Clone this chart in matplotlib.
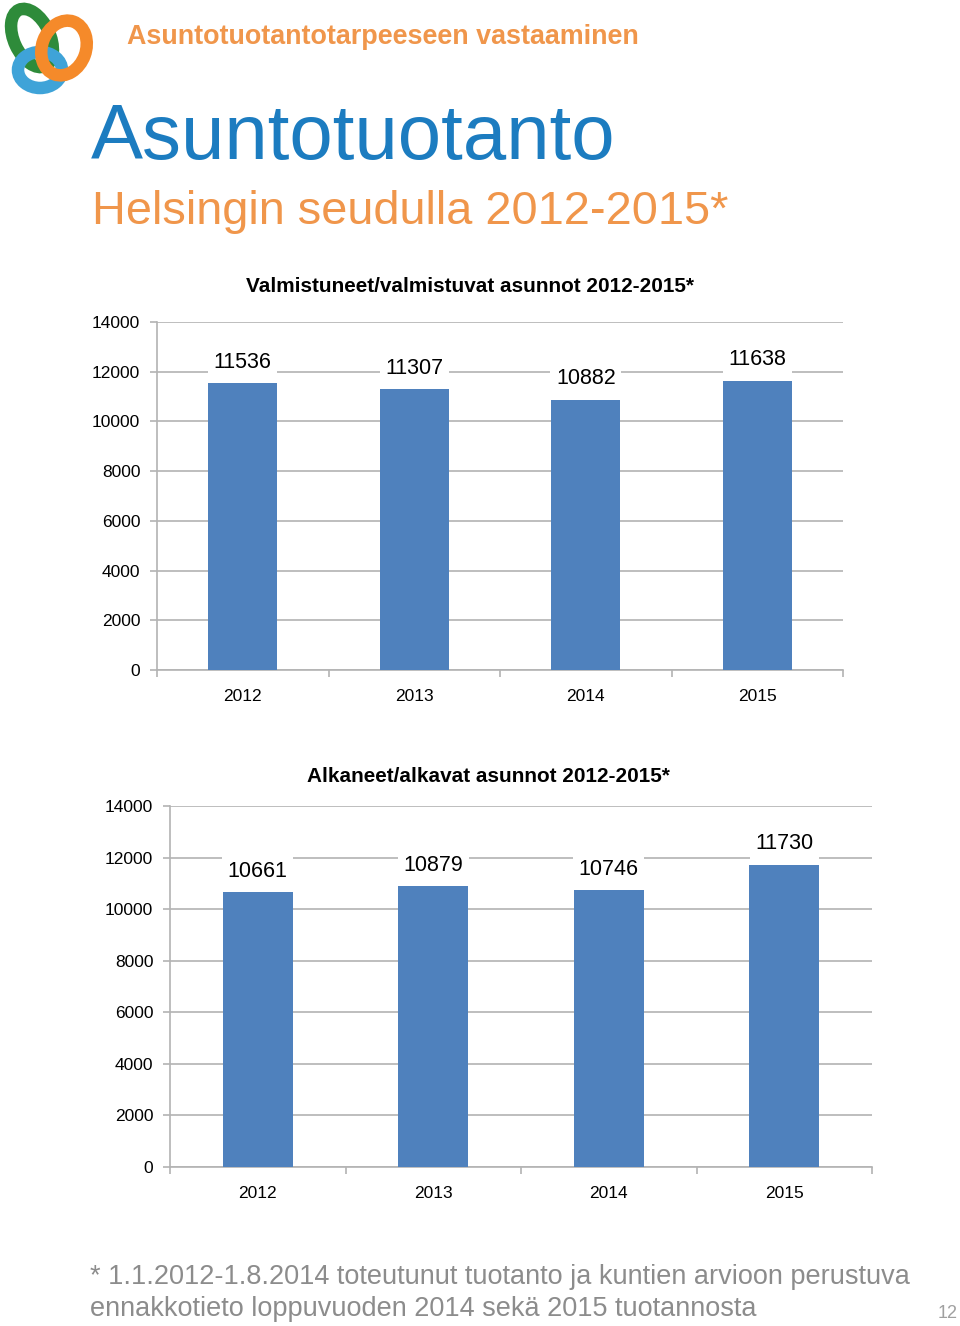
import matplotlib
matplotlib.use("Agg")
import matplotlib.pyplot as plt
from matplotlib.patches import Ellipse
import numpy as np

years = ["2012", "2013", "2014", "2015"]
valmistuneet = [11536, 11307, 10882, 11638]
alkaneet = [10661, 10879, 10746, 11730]
yticks = [0, 2000, 4000, 6000, 8000, 10000, 12000, 14000]

title1 = "Valmistuneet/valmistuvat asunnot 2012-2015*"
title2 = "Alkaneet/alkavat asunnot 2012-2015*"

W, H = 960, 1326
fig = plt.figure(figsize=(W / 100, H / 100), dpi=100)
fig.patch.set_facecolor("white")
renderer = fig.canvas.get_renderer()

BAR = "#4F81BD"
GRID = "#B3B3B3"
ORANGE = "#F0964B"
BLUE = "#1C7CC0"
GRAY = "#8C8C8C"
FONT = "Liberation Sans"

def fit_width(t, target_px):
    w = t.get_window_extent(renderer=renderer).width
    t.set_fontsize(t.get_fontsize() * target_px / w)
    return t.get_fontsize()

def px_axes(l, r, t, b):
    return fig.add_axes([l / W, 1 - b / H, (r - l) / W, (b - t) / H])

def draw_chart(ax, vals, title, title_x, title_y, title_w):
    x = np.arange(len(years))
    ax.bar(x, vals, width=0.4, color=BAR, zorder=3)
    ax.set_xlim(-0.5, len(years) - 0.5)
    ax.set_ylim(0, 14000)
    ax.set_yticks(yticks)
    ax.set_yticklabels([str(v) for v in yticks], fontsize=12.5, family=FONT)
    ax.yaxis.grid(True, color=GRID, lw=1.2, zorder=0)
    ax.set_axisbelow(True)
    ax.set_xticks(x)
    ax.set_xticklabels(years, fontsize=12.5, family=FONT)
    ax.set_xticks(np.arange(len(years) + 1) - 0.5, minor=True)
    ax.tick_params(axis="x", which="major", length=0, pad=13.5)
    ax.tick_params(axis="x", which="minor", length=5, color=GRID, width=1.2)
    ax.tick_params(axis="y", length=5, color=GRID, width=1.2, pad=7)
    for s in ["top", "right"]:
        ax.spines[s].set_visible(False)
    for s in ["left", "bottom"]:
        ax.spines[s].set_color(GRID)
        ax.spines[s].set_linewidth(1.2)
    for xi, v in zip(x, vals):
        ax.annotate(str(v), (xi, v), xytext=(0, 15), textcoords="offset points",
                    ha="center", va="center", fontsize=15.5, family=FONT,
                    bbox=dict(boxstyle="square,pad=0.25", fc="white", ec="none"), zorder=5)
    t = fig.text(title_x / W, 1 - title_y / H, title, ha="center", va="center",
                 fontsize=14, fontweight="bold", family=FONT)
    fit_width(t, title_w)

ax1 = px_axes(157, 843, 322, 670)
draw_chart(ax1, valmistuneet, title1, 470, 287, 450)
ax2 = px_axes(170, 872, 806, 1167)
draw_chart(ax2, alkaneet, title2, 488, 777, 363)

# Header texts
t = fig.text(127 / W, 1 - 37 / H, "Asuntotuotantotarpeeseen vastaaminen", ha="left", va="center",
             fontsize=17, fontweight="bold", color=ORANGE, family=FONT)
fit_width(t, 514)
t = fig.text(91 / W, 1 - 139 / H, "Asuntotuotanto", ha="left", va="center",
             fontsize=60, color=BLUE, family=FONT)
fit_width(t, 525)
t = fig.text(92 / W, 1 - 212 / H, "Helsingin seudulla 2012-2015*", ha="left", va="center",
             fontsize=34, color=ORANGE, family=FONT)
fit_width(t, 636)

# Footnote
f1 = fig.text(90 / W, 1 - 1277 / H, "* 1.1.2012-1.8.2014 toteutunut tuotanto ja kuntien arvioon perustuva",
              ha="left", va="center", fontsize=18, color=GRAY, family=FONT)
fs = fit_width(f1, 820)
fig.text(90 / W, 1 - 1309 / H, "ennakkotieto loppuvuoden 2014 sekä 2015 tuotannosta",
         ha="left", va="center", fontsize=fs, color=GRAY, family=FONT)
fig.text(948 / W, 1 - 1313 / H, "12", ha="center", va="center", fontsize=13, color="#A0A0A0",
         family=FONT)

# Logo (decorative rings)
logo = fig.add_axes([0, 1 - 100 / H, 100 / W, 100 / H])
logo.set_xlim(0, 100)
logo.set_ylim(100, 0)
logo.axis("off")
logo.add_patch(Ellipse((32, 38), 36, 62, angle=-25, fill=False, ec="#2E8B3A", lw=9))
logo.add_patch(Ellipse((40, 70), 44, 36, angle=0, fill=False, ec="#3FA3D8", lw=9))
logo.add_patch(Ellipse((64, 48), 44, 56, angle=20, fill=False, ec="#F58A2A", lw=9))

fig.savefig("out.png", dpi=100)
